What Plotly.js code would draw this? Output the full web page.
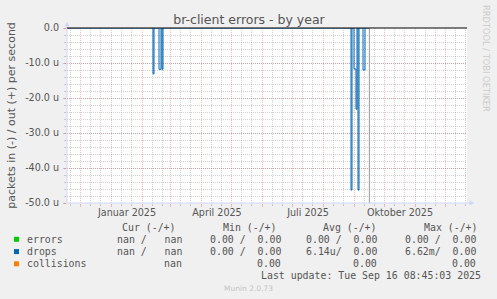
<!DOCTYPE html>
<html><head><meta charset="utf-8">
<script src="https://cdn.plot.ly/plotly-3.0.1.min.js"></script>
<style>html,body{margin:0;padding:0;background:#F0F0F0;} #chart{width:497px;height:299px;}</style>
</head><body><div id="chart"></div>
<script>
// ---- data ----
const xStart = '2024-11-18';
const xEnd = '2025-12-23';
const tickDates = ['2025-01-17', '2025-04-17', '2025-07-17', '2025-10-17'];
const tickLabels = ['Januar 2025', 'April 2025', 'Juli 2025', 'Oktober 2025'];
const yTickVals = [0, -10, -20, -30, -40, -50];
const yTickText = ['0.0', '-10.0 u', '-20.0 u', '-30.0 u', '-40.0 u', '-50.0 u'];
// drops (in, shown negative), micro-packets per second, daily steps
const dropDates = ['2024-11-18', '2025-02-12', '2025-02-13', '2025-02-18', '2025-02-20', '2025-02-21', '2025-02-22',
  '2025-08-29', '2025-08-30', '2025-09-01', '2025-09-03', '2025-09-04', '2025-09-05', '2025-09-06',
  '2025-09-10', '2025-09-12', '2025-09-16'];
const dropValues = [0, -13.1, 0, -11.8, 0, -11.8, 0,
  -46.3, 0, -11.7, -23.2, 0, -46.3, 0,
  -12.0, 0, 0];
const nowTime = '2025-09-16 08:45:03';
const seriesNames = ['errors', 'drops', 'collisions'];
const seriesColors = ['#00CC00', '#0066B3', '#FF8000'];
const curText = ['nan /   nan', 'nan /   nan', 'nan'];
const minText = ['0.00 /  0.00', '0.00 /  0.00', '0.00'];
const avgText = ['0.00 /  0.00', '6.14u/  0.00', '0.00'];
const maxText = ['0.00 /  0.00', '6.62m/  0.00', '0.00'];
const headers = ['Cur (-/+)', 'Min (-/+)', 'Avg (-/+)', 'Max (-/+)'];
const lastUpdate = 'Last update: Tue Sep 16 08:45:03 2025';
const munin = 'Munin 2.0.73';
const watermark = 'RRDTOOL / TOBI OETIKER';
const titleText = 'br-client errors - by year';
const yTitle = 'packets in (-) / out (+) per second';

// ---- helpers ----
const L = 67, R = 467, T = 28, B = 203;
const px = x => (x - L) / (R - L);
const py = y => (B - y) / (B - T);
const nb = s => s.replace(/ /g, '\u00A0');

const FONT = 'DejaVu Sans';
const MONO = 'DejaVu Sans Mono';
const TXT = '#555555';
const MAJ = 'rgba(222,79,79,0.38)';
const MIN = 'rgba(143,143,143,0.42)';
const AXC = '#CFD6F8';

// minor x grid: 11th and 21st of each month
const minorX = [];
for (let y = 2024; y <= 2025; y++) {
  for (let m = 1; m <= 12; m++) {
    if (y === 2024 && m < 11) continue;
    const mm = String(m).padStart(2, '0');
    minorX.push(`${y}-${mm}-11`, `${y}-${mm}-21`);
  }
}

const traces = [
  {x: dropDates, y: dropValues, type: 'scatter', mode: 'lines', line: {color: '#0066B3', width: 1, shape: 'hv'}, hoverinfo: 'skip', xaxis: 'x', yaxis: 'y'},
  {x: [nowTime, nowTime], y: [0, -50], type: 'scatter', mode: 'lines', line: {color: '#999999', width: 1}, hoverinfo: 'skip', xaxis: 'x2', yaxis: 'y'}
];

const ann = [];
const rowY = [239.3, 251.6, 263.8];
const headL = [121, 222, 322, 423];
const cellR = [183, 282, 378, 477];
headers.forEach((h, i) => ann.push({xref: 'paper', yref: 'paper', x: px(headL[i]), y: py(227.7), xanchor: 'left', yanchor: 'middle', text: nb(h), showarrow: false, borderpad: 0, font: {family: MONO, size: 9.9, color: TXT}}));
seriesNames.forEach((n, r) => {
  ann.push({xref: 'paper', yref: 'paper', x: px(26), y: py(rowY[r]), xanchor: 'left', yanchor: 'middle', text: nb(n), showarrow: false, borderpad: 0, font: {family: MONO, size: 9.9, color: TXT}});
  [curText[r], minText[r], avgText[r], maxText[r]].forEach((t, c) => {
    ann.push({xref: 'paper', yref: 'paper', x: px(cellR[c]), y: py(rowY[r]), xanchor: 'right', yanchor: 'middle', text: nb(t), showarrow: false, borderpad: 0, font: {family: MONO, size: 9.9, color: TXT}});
  });
});
ann.push({xref: 'paper', yref: 'paper', x: px(482), y: py(275.7), xanchor: 'right', yanchor: 'middle', text: nb(lastUpdate), showarrow: false, borderpad: 0, font: {family: MONO, size: 9.9, color: TXT}});
ann.push({xref: 'paper', yref: 'paper', x: px(248), y: py(288.3), xanchor: 'center', yanchor: 'middle', text: munin, showarrow: false, borderpad: 0, font: {family: FONT, size: 7.5, color: '#C4C4C4'}});
ann.push({xref: 'paper', yref: 'paper', x: px(486.5), y: py(58.5), xanchor: 'center', yanchor: 'middle', textangle: 90, text: watermark, showarrow: false, borderpad: 0, font: {family: FONT, size: 8.3, color: '#CCCCCC'}});

const shapes = [];
// legend squares
seriesColors.forEach((c, r) => shapes.push({type: 'rect', xref: 'paper', yref: 'paper', x0: px(14), x1: px(19), y0: py(rowY[r] + 2.5), y1: py(rowY[r] - 2.5), fillcolor: c, line: {width: 0}}));
// axes with arrows
shapes.push({type: 'line', xref: 'paper', yref: 'paper', x0: 0, x1: 0, y0: 0, y1: py(25), line: {color: AXC, width: 1}});
shapes.push({type: 'line', xref: 'paper', yref: 'paper', x0: 0, x1: px(470), y0: 0, y1: 0, line: {color: AXC, width: 1}});
shapes.push({type: 'path', xref: 'paper', yref: 'paper', path: `M ${px(64.5)} ${py(26.5)} L ${px(69.5)} ${py(26.5)} L ${px(67)} ${py(21.5)} Z`, fillcolor: AXC, line: {width: 0}});
shapes.push({type: 'path', xref: 'paper', yref: 'paper', path: `M ${px(469.5)} ${py(200.5)} L ${px(469.5)} ${py(205.5)} L ${px(474.5)} ${py(203)} Z`, fillcolor: AXC, line: {width: 0}});
// zero line
shapes.push({type: 'line', xref: 'paper', yref: 'paper', x0: 0, x1: 1, y0: 1, y1: 1, line: {color: '#000000', width: 1}});

const layout = {
  width: 497, height: 299,
  paper_bgcolor: '#F0F0F0', plot_bgcolor: '#FFFFFF',
  margin: {l: L, r: 497 - R, t: T, b: 299 - B, pad: 0},
  showlegend: false,
  title: {text: titleText, x: 249 / 497, xanchor: 'center', xref: 'container', y: 1 - 20 / 299, yanchor: 'middle', yref: 'container', font: {family: FONT, size: 12.5, color: TXT}},
  xaxis: {
    type: 'date', range: [xStart, xEnd], tick0: '2024-12-01', dtick: 'M1', showticklabels: false,
    ticks: 'outside', ticklen: 3, tickcolor: MAJ, tickwidth: 1,
    showgrid: true, gridcolor: MAJ, griddash: '1px,1px', gridwidth: 1,
    minor: {tickmode: 'array', tickvals: minorX, showgrid: true, gridcolor: MIN, griddash: '1px,1px', ticks: 'outside', ticklen: 2, tickcolor: MIN},
    zeroline: false, showline: false, fixedrange: true
  },
  xaxis2: {
    type: 'date', range: [xStart, xEnd], overlaying: 'x', anchor: 'y', side: 'bottom',
    tickmode: 'array', tickvals: tickDates, ticktext: tickLabels, ticks: '', showgrid: false, zeroline: false, showline: false,
    tickfont: {family: FONT, size: 9.6, color: TXT}, ticklabelstandoff: 2
  },
  yaxis: {
    range: [-50, 0], tickmode: 'array', tickvals: yTickVals, ticktext: yTickText,
    ticks: 'outside', ticklen: 3, tickcolor: MAJ, tickwidth: 1,
    showgrid: true, gridcolor: MAJ, griddash: '1px,1px', gridwidth: 1,
    minor: {dtick: 2, showgrid: true, gridcolor: MIN, griddash: '1px,1px', ticks: 'outside', ticklen: 2, tickcolor: MIN},
    zeroline: false, showline: false,
    tickfont: {family: FONT, size: 9.6, color: TXT}, ticklabelstandoff: 2,
    title: {text: yTitle, font: {family: FONT, size: 11, color: TXT}, standoff: 7},
    automargin: false
  },
  annotations: ann,
  shapes: shapes
};

Plotly.newPlot('chart', traces, layout, {staticPlot: true, displayModeBar: false});
</script>
</body></html>
